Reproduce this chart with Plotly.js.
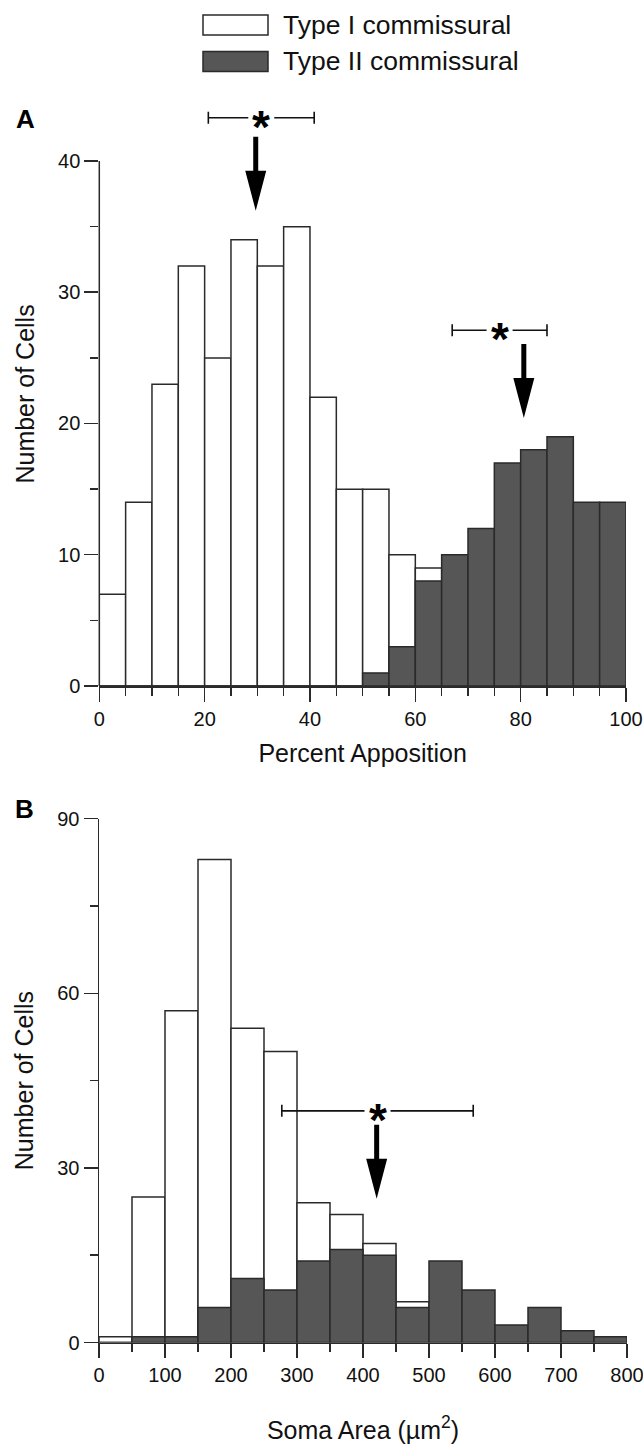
<!DOCTYPE html>
<html><head><meta charset="utf-8">
<script src="https://cdn.plot.ly/plotly-3.0.1.min.js"></script>
<style>html,body{margin:0;padding:0;background:#fff}#chart{width:643px;height:1445px}</style>
</head><body><div id="chart"></div>
<script>
// ---------- DATA ----------
// Panel A: Percent Apposition, bins of 5 %
const binsA  = [0,5,10,15,20,25,30,35,40,45,50,55,60,65,70,75,80,85,90,95];
const type1A = [7,14,23,32,25,34,32,35,22,15,15,10,9,0,0,0,0,0,0,0];
const type2A = [0,0,0,0,0,0,0,0,0,0,1,3,8,10,12,17,18,19,14,14];
// Panel B: Soma Area (µm²), bins of 50
const binsB  = [0,50,100,150,200,250,300,350,400,450,500,550,600,650,700,750];
const type1B = [1,25,57,83,54,50,24,22,17,7,0,0,0,0,0,0];
const type2B = [0,1,1,6,11,9,14,16,15,6,14,9,3,6,2,1];
// significance brackets (range) and arrows (central value)
const sdLoA = [20.7, 67];  const sdHiA = [40.8, 85];  const sdYA = [43.3, 27.1];
const arrowXA = [29.7, 80.6]; const arrowTopA = [41.85, 26.06];
const sdLoB = [277]; const sdHiB = [567]; const sdYB = [39.8];
const arrowXB = [420.7]; const arrowTopB = [37.4];
const seriesNames = ['Type I commissural','Type II commissural'];
const binWidthA = 5, binWidthB = 50;
const yMaxA = 40, yMaxB = 90;

// ---------- LAYOUT HELPERS ----------
const W = 643, H = 1445;
const px = v => v / W;
const py = v => 1 - v / H;
const FONT = 'Liberation Sans, Arial, Helvetica, sans-serif';
const EDGE = '#2a2a2a';
const DARK = '#565656';

function barTrace(x, y, w, fill, name, xa, ya) {
  return {type:'bar', x:x, y:y, width:w, offset:0, name:name, xaxis:xa, yaxis:ya,
    marker:{color:fill, line:{color:EDGE, width:1.5}}, showlegend:false, hoverinfo:'x+y'};
}
function bracketTrace(lo, hi, yv, xa, ya) {
  const c = lo.map((l,i)=>(l+hi[i])/2);
  const hw = lo.map((l,i)=>(hi[i]-l)/2);
  return {type:'scatter', mode:'markers', x:c, y:yv, xaxis:xa, yaxis:ya, showlegend:false, cliponaxis:false,
    marker:{symbol:'square', color:'#ffffff', size:26, line:{width:0}},
    error_x:{type:'data', symmetric:true, array:hw, color:'#111', thickness:1.6, width:6},
    hoverinfo:'skip'};
}
const data = [
  barTrace(binsA, type1A, binWidthA, '#ffffff', seriesNames[0], 'x', 'y'),
  barTrace(binsA, type2A, binWidthA, DARK, seriesNames[1], 'x', 'y'),
  barTrace(binsB, type1B, binWidthB, '#ffffff', seriesNames[0], 'x2', 'y2'),
  barTrace(binsB, type2B, binWidthB, DARK, seriesNames[1], 'x2', 'y2'),
  bracketTrace(sdLoA, sdHiA, sdYA, 'x', 'y'),
  bracketTrace(sdLoB, sdHiB, sdYB, 'x2', 'y2')
];

const arrowPath = 'M-2.5,0 L2.5,0 L2.5,-34 L10.5,-34 L0,-74 L-10.5,-34 L-2.5,-34 Z';
const shapes = [];
function addArrows(xs, tops, xr, yr) {
  xs.forEach((x,i)=>shapes.push({type:'path', xref:xr, yref:yr, xsizemode:'pixel', ysizemode:'pixel',
    xanchor:x, yanchor:tops[i], path:arrowPath, fillcolor:'#000', line:{width:0}, layer:'above'}));
}
addArrows(arrowXA, arrowTopA, 'x', 'y');
addArrows(arrowXB, arrowTopB, 'x2', 'y2');
// panel A y-axis line only up to the last tick (the range leaves headroom for the bracket)
shapes.push({type:'line', xref:'paper', yref:'y', x0:px(99.3), x1:px(99.3), y0:0, y1:yMaxA,
  line:{color:EDGE, width:1.5}, layer:'above'});
// legend swatches
shapes.push({type:'rect', xref:'paper', yref:'paper', x0:px(203), x1:px(268), y0:py(35), y1:py(15),
  fillcolor:'#ffffff', line:{color:EDGE, width:1.5}});
shapes.push({type:'rect', xref:'paper', yref:'paper', x0:px(203), x1:px(268), y0:py(71.5), y1:py(51.5),
  fillcolor:DARK, line:{color:EDGE, width:1.5}});

const annotations = [];
function addStars(lo, hi, yv, xr, yr) {
  lo.forEach((l,i)=>annotations.push({xref:xr, yref:yr, x:(l+hi[i])/2, y:yv[i], text:'<b>*</b>',
    showarrow:false, font:{family:FONT, size:46, color:'#000'}, xanchor:'center', yanchor:'middle', yshift:-9}));
}
addStars(sdLoA, sdHiA, sdYA, 'x', 'y');
addStars(sdLoB, sdHiB, sdYB, 'x2', 'y2');
annotations.push({xref:'paper', yref:'paper', x:px(281), y:py(24.5), text:seriesNames[0], showarrow:false,
  xanchor:'left', yanchor:'middle', font:{family:FONT, size:26.5, color:'#111'}});
annotations.push({xref:'paper', yref:'paper', x:px(281), y:py(61), text:seriesNames[1], showarrow:false,
  xanchor:'left', yanchor:'middle', font:{family:FONT, size:26.5, color:'#111'}});
annotations.push({xref:'paper', yref:'paper', x:px(14), y:py(119), text:'<b>A</b>', showarrow:false,
  xanchor:'left', yanchor:'middle', font:{family:FONT, size:26, color:'#000'}});
annotations.push({xref:'paper', yref:'paper', x:px(13), y:py(809), text:'<b>B</b>', showarrow:false,
  xanchor:'left', yanchor:'middle', font:{family:FONT, size:26, color:'#000'}});

function axis(domain, range, dtick, mdtick, title, standoff, anchor, line) {
  return {domain:domain, range:range, anchor:anchor, fixedrange:true,
    showline:line, linecolor:EDGE, linewidth:1.5, mirror:false,
    ticks:'outside', ticklen:14, tickwidth:1.5, tickcolor:EDGE, tick0:0, dtick:dtick,
    minor:{ticks:'outside', ticklen:8, tickwidth:1.5, tickcolor:EDGE, dtick:mdtick, tick0:0, showgrid:false},
    showgrid:false, zeroline:false, ticklabeloverflow:'allow',
    tickfont:{family:FONT, size:20, color:'#111'},
    title:{text:title, font:{family:FONT, size:25, color:'#111'}, standoff:standoff}};
}
// panel A y: 13.125 px per cell, 0 at 686 px, headroom up to 44.5
const yTopA = 44.5;
const layout = {
  width:W, height:H, margin:{l:0, r:0, t:0, b:0}, paper_bgcolor:'#fff', plot_bgcolor:'rgba(0,0,0,0)',
  barmode:'overlay', bargap:0, showlegend:false, font:{family:FONT},
  xaxis: axis([px(99.3), px(626)], [0,100], 20, 5, 'Percent Apposition', 16, 'y', true),
  yaxis: axis([py(686), py(686 - yTopA*13.125)], [0,yTopA], 10, 5, 'Number of Cells', 16, 'x', false),
  xaxis2: axis([px(99), px(627)], [0,800], 100, 50, 'Soma Area (µm<sup>2</sup>)', 36, 'y2', true),
  yaxis2: axis([py(1342.5), py(818.7)], [0,yMaxB], 30, 15, 'Number of Cells', 16, 'x2', true),
  shapes:shapes, annotations:annotations
};
Plotly.newPlot('chart', data, layout, {displayModeBar:false, staticPlot:true});
</script></body></html>
